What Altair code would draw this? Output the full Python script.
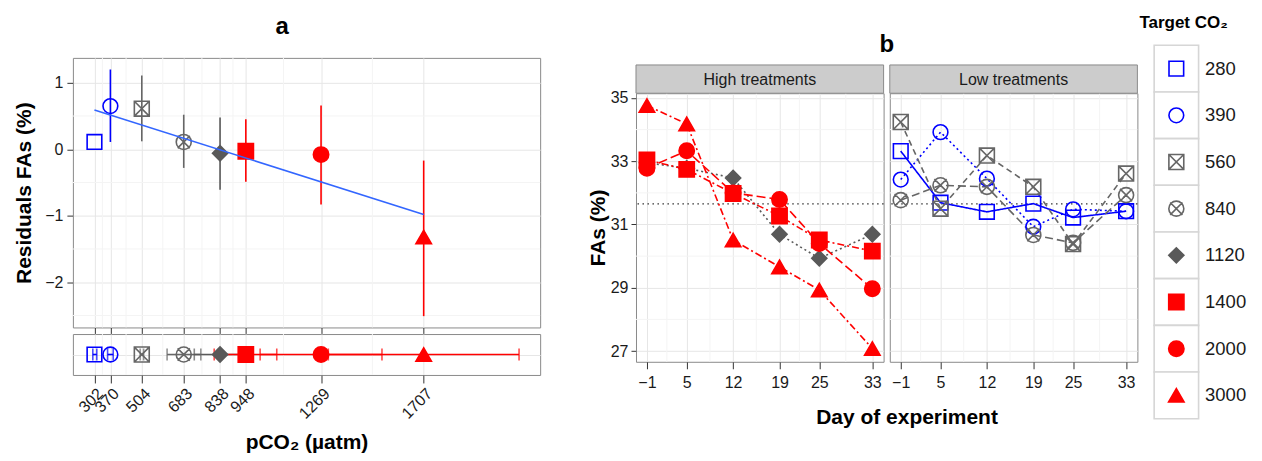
import altair as alt
import pandas as pd

FONT = "Liberation Sans"
TXT = "#1A1A1A"
TICK = "#333333"
GRID = "#E6E6E6"
GRID_MINOR = "#F4F4F4"
BORDER = "#8A8A8A"

# ---------------- shared category styling ----------------
targets = ["280", "390", "560", "840", "1120", "1400", "2000", "3000"]
target_colors = ["#0000FF", "#0000FF", "#666666", "#666666", "#595959", "#FF0000", "#FF0000", "#FF0000"]
target_fills = ["transparent", "transparent", "transparent", "transparent", "#595959", "#FF0000", "#FF0000", "#FF0000"]
SQX = "M-1,-1L1,-1L1,1L-1,1Z M-1,-1L1,1 M-1,1L1,-1"
CIX = "M1,0A1,1,0,1,1,-1,0A1,1,0,1,1,1,0Z M-0.82,-0.82L0.82,0.82 M-0.82,0.82L0.82,-0.82"
target_shapes = ["square", "circle", SQX, CIX, "diamond", "square", "circle", "triangle-up"]
sizes_a = [215, 240, 240, 240, 165, 215, 200, 300]
sizes_b = [205, 180, 200, 200, 110, 185, 180, 285]
sizes_leg = [310, 300, 300, 300, 240, 330, 300, 520]
target_dashes = [[1, 0], [2, 3], [6, 4], [8, 4], [2, 3], [7, 3, 2, 3], [9, 4], [7, 3, 2, 3]]

# ---------------- panel a data ----------------
pco2 = [302, 370, 504, 683, 838, 948, 1269, 1707]
pco2_lo = [295, 358, 497, 612, 728, 813, 1009, 1300]
pco2_hi = [312, 382, 512, 756, 948, 1080, 1529, 2114]
resid = [0.11, 0.65, 0.61, 0.11, -0.06, -0.03, -0.08, -1.32]
resid_lo = [0.11, 0.11, 0.12, -0.28, -0.61, -0.49, -0.83, -2.51]
resid_hi = [0.11, 1.20, 1.11, 0.52, 0.48, 0.45, 0.66, -0.17]
fit_x = [302, 1707]
fit_y = [0.59, -0.98]
pco2_minor = [336, 437, 593.5, 760.5, 893, 1108.5, 1488]
resid_ticks = [-2, -1, 0, 1]
resid_minor = [-2.5, -1.5, -0.5, 0.5]

# ---------------- panel b data ----------------
days = [-1, 5, 12, 19, 25, 33]
days_minor = [2, 8.5, 15.5, 22, 29]
fas_ticks = [27, 29, 31, 33, 35]
fas_minor = [28, 30, 32, 34]
fa_280 = [33.32, 31.69, 31.40, 31.66, 31.22, 31.42]
fa_390 = [32.42, 33.92, 32.45, 30.93, 31.48, 31.42]
fa_560 = [34.24, 31.50, 33.18, 32.19, 30.38, 32.61]
fa_840 = [31.77, 32.24, 32.19, 30.67, 30.42, 31.93]
fa_1120 = [32.95, 32.78, 32.47, 30.69, 29.93, 30.69]
fa_1400 = [33.04, 32.74, 31.98, 31.27, 30.51, 30.16]
fa_2000 = [32.78, 33.33, 32.00, 31.79, 30.40, 28.97]
fa_3000 = [34.76, 34.18, 30.51, 29.66, 28.93, 27.08]
fa_mean = [31.65]
panels = ["High treatments", "Low treatments"]

# ---------------- tables ----------------
df_a = pd.DataFrame({
    "target": targets, "pco2": pco2, "plo": pco2_lo, "phi": pco2_hi,
    "resid": resid, "lo": resid_lo, "hi": resid_hi, "zero": [0] * len(targets),
})
df_fit = pd.DataFrame({"x": fit_x, "y": fit_y})

rows = []
for t, vals in zip(targets, [fa_280, fa_390, fa_560, fa_840, fa_1120, fa_1400, fa_2000, fa_3000]):
    panel = panels[1] if targets.index(t) < 4 else panels[0]
    for d, v in zip(days, vals):
        rows.append({"target": t, "day": d, "fas": v, "panel": panel})
df_b = pd.DataFrame(rows)

color_scale = alt.Scale(domain=targets, range=target_colors)
fill_scale = alt.Scale(domain=targets, range=target_fills)
shape_scale = alt.Scale(domain=targets, range=target_shapes)
dash_scale = alt.Scale(domain=targets, range=target_dashes)
NOFRAME = alt.ViewBackground(strokeOpacity=0)


def point_enc(sizes):
    return dict(
        shape=alt.Shape("target:N", scale=shape_scale, legend=None),
        stroke=alt.Stroke("target:N", scale=color_scale, legend=None),
        fill=alt.Fill("target:N", scale=fill_scale, legend=None),
        size=alt.Size("target:N", scale=alt.Scale(domain=targets, range=sizes), legend=None),
    )


def spacer(w, h, text="", tx=0, ty=0, size=24, baseline="alphabetic"):
    base = alt.Chart(pd.DataFrame({"t": [text]}))
    m = base.mark_text(fontSize=size, fontWeight="bold", color="black", align="center",
                       baseline=baseline).encode(x=alt.value(tx), y=alt.value(ty), text="t:N")
    return m.properties(width=w, height=h, view=NOFRAME)


# ================= panel a =================
WA, HA, HS = 468, 270, 41
xa_scale = alt.Scale(domain=[210, 2204], nice=False, zero=False)
ya_scale = alt.Scale(domain=[-2.68, 1.375], nice=False, zero=False)
xa_axis_main = alt.Axis(values=pco2, labels=False, title=None, tickSize=6, grid=True,
                        gridColor=GRID, domain=False, tickColor=TICK)
ya_axis = alt.Axis(values=resid_ticks, title="Residuals FAs (%)", tickSize=6, grid=True,
                   gridColor=GRID, domain=False, tickColor=TICK, labelPadding=4, titlePadding=10)


def XA(f):
    return alt.X(f, type="quantitative", scale=xa_scale, axis=xa_axis_main)


def YA(f):
    return alt.Y(f, type="quantitative", scale=ya_scale, axis=ya_axis)


a_vminor = alt.Chart(pd.DataFrame({"x": pco2_minor})).mark_rule(color=GRID_MINOR, strokeWidth=1).encode(x=XA("x"))
a_hminor = alt.Chart(pd.DataFrame({"y": resid_minor})).mark_rule(color=GRID_MINOR, strokeWidth=1).encode(y=YA("y"))
a_err = alt.Chart(df_a).mark_rule(strokeWidth=1.6).encode(
    x=XA("pco2"), y=YA("lo"), y2=alt.Y2("hi"),
    color=alt.Color("target:N", scale=color_scale, legend=None))
a_pts = alt.Chart(df_a).mark_point(opacity=1, strokeWidth=1.6).encode(
    x=XA("pco2"), y=YA("resid"), **point_enc(sizes_a))
a_fit = alt.Chart(df_fit).mark_line(color="#3366FF", strokeWidth=1.6).encode(x=XA("x"), y=YA("y"))
a_main = alt.layer(a_vminor, a_hminor, a_err, a_pts, a_fit).properties(width=WA, height=HA)

xs_axis = alt.Axis(values=pco2, format="d", labelOverlap=False, title="pCO₂ (µatm)", tickSize=8,
                   grid=True, gridColor=GRID, domain=False, tickColor=TICK, labelAngle=315,
                   labelAlign="right", labelBaseline="top", labelPadding=2, titlePadding=10)
ys = alt.Y("zero:Q", scale=alt.Scale(domain=[-1, 1]),
           axis=alt.Axis(values=[0], labels=False, ticks=False, domain=False, grid=True,
                         gridColor=GRID, title=None))


def XS(f):
    return alt.X(f, type="quantitative", scale=xa_scale, axis=xs_axis)


s_vminor = alt.Chart(pd.DataFrame({"x": pco2_minor})).mark_rule(color=GRID_MINOR, strokeWidth=1).encode(x=XS("x"))
s_err = alt.Chart(df_a).mark_rule(strokeWidth=1.6).encode(
    x=XS("plo"), x2=alt.X2("phi"), y=ys,
    color=alt.Color("target:N", scale=color_scale, legend=None))
s_cap_lo = alt.Chart(df_a).mark_tick(orient="vertical", size=12, thickness=1.6).encode(
    x=XS("plo"), y=ys, color=alt.Color("target:N", scale=color_scale, legend=None))
s_cap_hi = alt.Chart(df_a).mark_tick(orient="vertical", size=12, thickness=1.6).encode(
    x=XS("phi"), y=ys, color=alt.Color("target:N", scale=color_scale, legend=None))
s_pts = alt.Chart(df_a).mark_point(opacity=1, strokeWidth=1.6).encode(
    x=XS("pco2"), y=ys, **point_enc(sizes_a))
a_strip = alt.layer(s_vminor, s_err, s_cap_lo, s_cap_hi, s_pts).properties(width=WA, height=HS)

panel_a = alt.vconcat(spacer(WA, 5.8, baseline="top"), a_main, a_strip, spacing=6.6,
                      bounds="flush").properties(
    title=alt.TitleParams("a", fontSize=24, fontWeight="bold", anchor="middle", offset=6, dx=5))

# ================= panel b =================
WB, HB, HH, SPB = 248, 269, 28.3, 6.2
xb_scale = alt.Scale(domain=[-2.65, 34.70], nice=False, zero=False)
yb_scale = alt.Scale(domain=[26.66, 35.15], nice=False, zero=False)


def facet(panel_name, first):
    xb_axis = alt.Axis(values=days, grid=True, gridColor=GRID, domain=False, tickColor=TICK,
                       tickSize=7, labelPadding=6,
                       title="Day of experiment" if first else "", titleX=271, titlePadding=16)
    yb_axis = alt.Axis(values=fas_ticks, grid=True, gridColor=GRID, domain=False, tickColor=TICK,
                       tickSize=5, labels=first, ticks=first, labelPadding=3,
                       title="FAs (%)" if first else "", titlePadding=2)

    def XB(f):
        return alt.X(f, type="quantitative", scale=xb_scale, axis=xb_axis)

    def YB(f):
        return alt.Y(f, type="quantitative", scale=yb_scale, axis=yb_axis)

    d = df_b[df_b["panel"] == panel_name]
    lab = pd.DataFrame({"label": [panel_name]})
    head = alt.Chart(lab).mark_rect(fill="#CCCCCC", stroke=BORDER, strokeWidth=1).encode(
        x=alt.value(0), x2=alt.value(WB), y=alt.value(-HH), y2=alt.value(0))
    head_t = alt.Chart(lab).mark_text(fontSize=16, color=TXT, baseline="middle").encode(
        x=alt.value(WB / 2), y=alt.value(-HH / 2 + 1), text="label:N")
    vminor = alt.Chart(pd.DataFrame({"x": days_minor})).mark_rule(color=GRID_MINOR, strokeWidth=1).encode(x=XB("x"))
    hminor = alt.Chart(pd.DataFrame({"y": fas_minor})).mark_rule(color=GRID_MINOR, strokeWidth=1).encode(y=YB("y"))
    hline = alt.Chart(pd.DataFrame({"y": fa_mean})).mark_rule(
        color="#333333", strokeWidth=1.3, strokeDash=[1.5, 3.5]).encode(y=YB("y"))
    lines = alt.Chart(d).mark_line(strokeWidth=1.6).encode(
        x=XB("day"), y=YB("fas"),
        color=alt.Color("target:N", scale=color_scale, legend=None),
        strokeDash=alt.StrokeDash("target:N", scale=dash_scale, legend=None))
    pts = alt.Chart(d).mark_point(opacity=1, strokeWidth=1.6).encode(
        x=XB("day"), y=YB("fas"), **point_enc(sizes_b))
    return alt.layer(vminor, hminor, hline, lines, pts, head, head_t).properties(width=WB, height=HB)


facets = alt.hconcat(facet(panels[0], True), facet(panels[1], False), spacing=SPB, bounds="flush")
panel_b = alt.vconcat(
    spacer(2 * WB + SPB, 47.7, "b", tx=(2 * WB + SPB) / 2, ty=6.7),
    facets, spacing=0, bounds="flush")

# ================= legend =================
leg_df = pd.DataFrame({"target": targets, "label": targets})
ly = alt.Y("target:N", scale=alt.Scale(domain=targets, paddingInner=0, paddingOuter=0), axis=None)
boxes = alt.Chart(leg_df).mark_rect(fill="white", stroke="#D6D6D6", strokeWidth=1.6).encode(
    x=alt.value(0), x2=alt.value(44.5), y=ly)
syms = alt.Chart(leg_df).mark_point(opacity=1, strokeWidth=1.6).encode(
    x=alt.value(22.2), y=ly, **point_enc(sizes_leg))
labels = alt.Chart(leg_df).mark_text(align="left", baseline="middle", fontSize=18.5, color=TXT).encode(
    x=alt.value(51), y=ly, text="label:N")
legend = alt.layer(boxes, syms, labels).properties(
    width=100, height=374,
    title=alt.TitleParams("Target CO₂", fontSize=17, fontWeight="bold", anchor="start",
                          dx=-14, offset=13),
    view=NOFRAME)

chart = alt.hconcat(
    panel_a,
    alt.hconcat(panel_b, legend, spacing=0),
    spacing=45,
).properties(
    padding={"left": 5, "top": 5, "right": 0, "bottom": 0}
).configure(
    font=FONT
).configure_view(
    stroke=BORDER, strokeWidth=1
).configure_axis(
    labelFont=FONT, labelFontSize=16, labelColor=TXT, tickWidth=1,
    titleFont=FONT, titleFontSize=21, titleFontWeight="bold", titleColor="black"
).configure_title(
    font=FONT, color="black"
)

chart.save("out.html", embed_options={"renderer": "svg", "actions": False})
